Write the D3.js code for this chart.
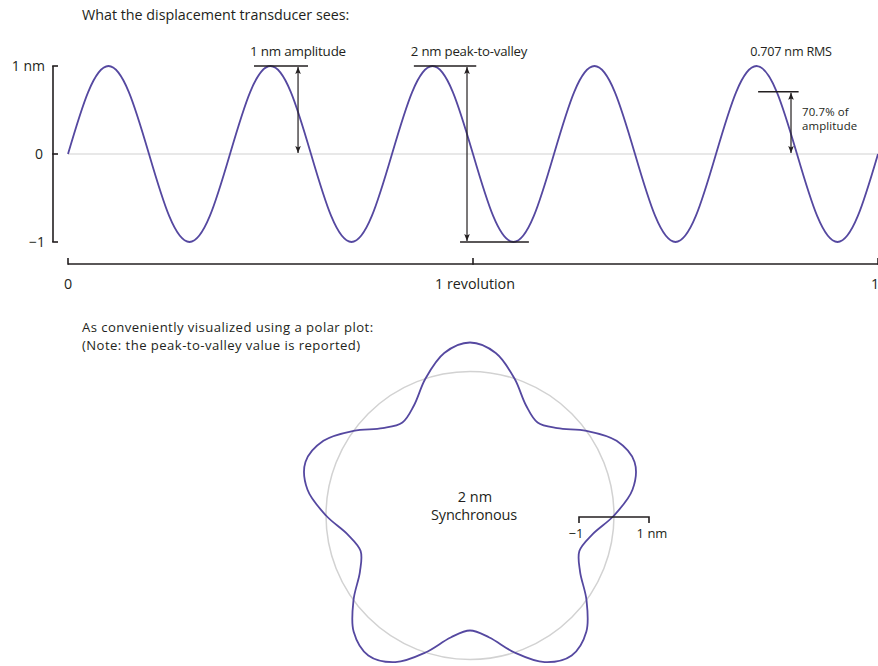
<!DOCTYPE html>
<html>
<head>
<meta charset="utf-8">
<script src="https://cdn.jsdelivr.net/npm/d3@7"></script>
<style>
  body { margin: 0; background: #fff; }
  svg text { font-family: "Open Sans", "DejaVu Sans", sans-serif; fill: #231f20; }
</style>
</head>
<body>
<div id="chart_area"></div>
<script>
// Data: one revolution, sampled every 1/8 of a cycle (5 cycles per revolution)
var revolution = [0, 0.025, 0.05, 0.075, 0.1, 0.125, 0.15, 0.175, 0.2, 0.225,
                  0.25, 0.275, 0.3, 0.325, 0.35, 0.375, 0.4, 0.425, 0.45, 0.475,
                  0.5, 0.525, 0.55, 0.575, 0.6, 0.625, 0.65, 0.675, 0.7, 0.725,
                  0.75, 0.775, 0.8, 0.825, 0.85, 0.875, 0.9, 0.925, 0.95, 0.975, 1];
var displacement = [0, 0.707, 1, 0.707, 0, -0.707, -1, -0.707,
                    0, 0.707, 1, 0.707, 0, -0.707, -1, -0.707,
                    0, 0.707, 1, 0.707, 0, -0.707, -1, -0.707,
                    0, 0.707, 1, 0.707, 0, -0.707, -1, -0.707,
                    0, 0.707, 1, 0.707, 0, -0.707, -1, -0.707, 0];

var yTicks = [-1, 0, 1];
var yTickLabels = ["\u22121", "0", "1 nm"];
var xTicks = [0, 0.5, 1];
var xTickLabels = ["0", "1 revolution", "1"];

var amplitude = 1;
var peakToValley = 2;
var rms = 0.707;

var frame_width = 878, frame_height = 666;
var purple = "#5548a0";
var grey = "#d2d2d2";

var frame = d3.select("#chart_area").append("svg")
    .attr("width", frame_width)
    .attr("height", frame_height);

// arrow heads
var defs = frame.append("defs");
defs.append("marker")
    .attr("id", "arrow")
    .attr("viewBox", "0 0 10 10")
    .attr("refX", 10).attr("refY", 5)
    .attr("markerWidth", 7).attr("markerHeight", 7)
    .attr("markerUnits", "userSpaceOnUse")
    .attr("orient", "auto-start-reverse")
    .append("path")
    .attr("d", "M0,1 L10,5 L0,9 L2,5 Z")
    .attr("fill", "#231f20");

// ---------- Top: linear trace ----------
var xScale = d3.scaleLinear().domain([0, 1]).range([68, 878]);
var yScale = d3.scaleLinear().domain([-1, 1]).range([242, 66]);

frame.append("text")
    .attr("x", 82).attr("y", 19.5)
    .attr("font-size", 14.3)
    .text("What the displacement transducer sees:");

// zero line
frame.append("line")
    .attr("x1", xScale(0)).attr("x2", xScale(1))
    .attr("y1", yScale(0)).attr("y2", yScale(0))
    .attr("stroke", grey).attr("stroke-width", 1.2);

// y axis (bracket style)
var yAxis = frame.append("g").attr("transform", "translate(53,0)");
yAxis.append("line")
    .attr("y1", yScale(-1)).attr("y2", yScale(1))
    .attr("stroke", "#231f20").attr("stroke-width", 1.6);
yAxis.selectAll(".ytick").data(yTicks).enter().append("line")
    .attr("x1", -0.8).attr("x2", 5)
    .attr("y1", function(d) { return yScale(d); })
    .attr("y2", function(d) { return yScale(d); })
    .attr("stroke", "#231f20").attr("stroke-width", 1.6);
yAxis.selectAll(".ylab").data(yTicks).enter().append("text")
    .attr("x", function(d) { return d === 0 ? -10 : -8; })
    .attr("y", function(d) { return yScale(d) + 5; })
    .attr("text-anchor", "end")
    .attr("font-size", 14)
    .text(function(d, i) { return yTickLabels[i]; });

// x axis
var xAxisY = 264;
frame.append("line")
    .attr("x1", xScale(0)).attr("x2", xScale(1))
    .attr("y1", xAxisY).attr("y2", xAxisY)
    .attr("stroke", "#231f20").attr("stroke-width", 1.6);
frame.selectAll(".xtick").data(xTicks).enter().append("line")
    .attr("x1", function(d) { return xScale(d); })
    .attr("x2", function(d) { return xScale(d); })
    .attr("y1", xAxisY + 0.8).attr("y2", xAxisY - 6)
    .attr("stroke", "#231f20").attr("stroke-width", 1.6);
frame.selectAll(".xlab").data(xTicks).enter().append("text")
    .attr("x", function(d) { return d === 1 ? xScale(d) - 3 : (d === 0.5 ? xScale(d) + 2 : xScale(d)); })
    .attr("y", 289)
    .attr("text-anchor", "middle")
    .attr("font-size", 14.3)
    .text(function(d, i) { return xTickLabels[i]; });

// the trace
var points = revolution.map(function(r, i) { return [r, displacement[i]]; });
var line = d3.line()
    .x(function(d) { return xScale(d[0]); })
    .y(function(d) { return yScale(d[1]); })
    .curve(d3.curveNatural);
frame.append("path")
    .datum(points)
    .attr("d", line)
    .attr("fill", "none")
    .attr("stroke", purple)
    .attr("stroke-width", 1.8);

// annotations
function hline(x0, x1, v) {
  frame.append("line")
      .attr("x1", xScale(x0)).attr("x2", xScale(x1))
      .attr("y1", yScale(v)).attr("y2", yScale(v))
      .attr("stroke", "#231f20").attr("stroke-width", 1.6);
}
function darrow(x, v0, v1) {
  frame.append("line")
      .attr("x1", xScale(x)).attr("x2", xScale(x))
      .attr("y1", yScale(v0) + 1).attr("y2", yScale(v1) - 1)
      .attr("stroke", "#231f20").attr("stroke-width", 1.2)
      .attr("marker-start", "url(#arrow)")
      .attr("marker-end", "url(#arrow)");
}
function label(x, y, txt, anchor, size) {
  return frame.append("text")
      .attr("x", x).attr("y", y)
      .attr("text-anchor", anchor || "middle")
      .attr("font-size", size || 13)
      .attr("letter-spacing", -0.2)
      .text(txt);
}

// 1 nm amplitude
hline(0.2296, 0.2963, amplitude);
darrow(0.284, amplitude, 0);
label(298, 56, "1 nm amplitude", "middle", 13.4);

// 2 nm peak-to-valley
hline(0.427, 0.504, amplitude);
hline(0.484, 0.569, amplitude - peakToValley);
darrow(0.4926, amplitude, amplitude - peakToValley);
label(469, 56, "2 nm peak-to-valley", "middle", 13.2);

// RMS
hline(0.852, 0.902, rms);
darrow(0.8926, rms, 0);
label(791, 56, "0.707 nm RMS", "middle", 12.6);
// tight two-line note: a font with a shorter line box so the lines don't collide
label(802, 115.5, "70.7% of", "start", 11.4)
    .attr("font-family", "'Liberation Sans', Arial, sans-serif").attr("letter-spacing", 0.15);
label(802, 129.8, "amplitude", "start", 11.4)
    .attr("font-family", "'Liberation Sans', Arial, sans-serif").attr("letter-spacing", 0.15);

// ---------- Bottom: polar plot ----------
frame.append("text")
    .attr("x", 82).attr("y", 332)
    .attr("font-size", 13.1)
    .attr("letter-spacing", 0.45)
    .text("As conveniently visualized using a polar plot:");
frame.append("text")
    .attr("x", 82).attr("y", 350)
    .attr("font-size", 13.1)
    .attr("letter-spacing", 0.45)
    .text("(Note: the peak-to-valley value is reported)");

var cx = 470, cy = 515.5;
var rScale = d3.scaleLinear().domain([-1, 1]).range([115, 173]);
var polar = frame.append("g").attr("transform", "translate(" + cx + "," + cy + ")");

polar.append("circle")
    .attr("r", rScale(0))
    .attr("fill", "none")
    .attr("stroke", grey)
    .attr("stroke-width", 1.5);

// rotate so the first peak points straight up
var angleOffset = 0.05;
var radial = d3.lineRadial()
    .angle(function(d) { return (d[0] - angleOffset) * 2 * Math.PI; })
    .radius(function(d) { return rScale(d[1]); })
    .curve(d3.curveCatmullRomClosed.alpha(0.5));
polar.append("path")
    .datum(points.slice(0, points.length - 1))
    .attr("d", radial)
    .attr("fill", "none")
    .attr("stroke", purple)
    .attr("stroke-width", 1.8);

polar.append("text")
    .attr("x", 5).attr("y", -13.5)
    .attr("text-anchor", "middle")
    .attr("font-size", 14.5)
    .text("2 nm");
polar.append("text")
    .attr("x", 4).attr("y", 4)
    .attr("text-anchor", "middle")
    .attr("font-size", 14.5)
    .attr("letter-spacing", -0.2)
    .text("Synchronous");

// scale bar at the reference circle
var barScale = d3.scaleLinear().domain([-1, 1]).range([rScale(0) - 35, rScale(0) + 35]);
var barY = 1.5;
polar.append("path")
    .attr("d", "M" + barScale(-1) + "," + (barY + 6) + "V" + barY +
               "H" + barScale(1) + "V" + (barY + 6))
    .attr("fill", "none")
    .attr("stroke", "#231f20")
    .attr("stroke-width", 1.6);
polar.append("text")
    .attr("x", barScale(-1) - 3).attr("y", barY + 21)
    .attr("text-anchor", "middle")
    .attr("font-size", 13)
    .text("\u22121");
polar.append("text")
    .attr("x", barScale(1) + 3).attr("y", barY + 21)
    .attr("text-anchor", "middle")
    .attr("font-size", 13)
    .text("1 nm");
</script>
</body>
</html>
